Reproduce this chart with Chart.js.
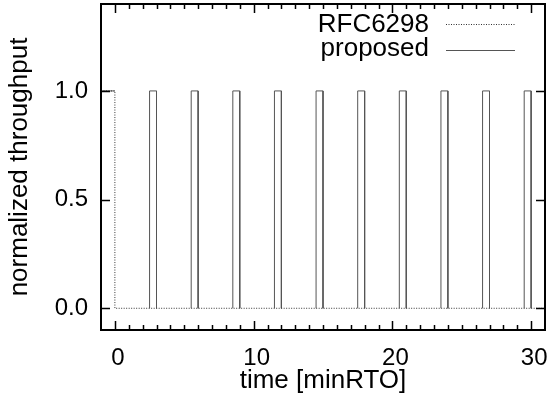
<!DOCTYPE html>
<html>
<head>
<meta charset="utf-8">
<script src="https://cdn.jsdelivr.net/npm/chart.js@4"></script>
<style>
  html, body { margin: 0; padding: 0; background: #fff; }
  canvas { display: block; }
</style>
</head>
<body>
<canvas id="chart" width="559" height="401"></canvas>
<script>
// data
const rfcX = [-1, 0, 0, 31];
const rfcY = [1, 1, 0, 0];
const proposedHeadX = [-1, 0];
const proposedHeadY = [1, 1];
const pulseStart = [2.5, 5.5, 8.5, 11.5, 14.5, 17.5, 20.5, 23.5, 26.5, 29.5];
const pulseEnd = [3, 6, 9, 12, 15, 18, 21, 24, 27, 30];
const pulseHigh = [1, 1, 1, 1, 1, 1, 1, 1, 1, 1];
const xTicks = [0, 10, 20, 30];
const yTicks = [0, 0.5, 1.0];
const seriesNames = ['RFC6298', 'proposed'];

const FONT = 'Liberation Sans, Arial, Helvetica, sans-serif';
const FS = 26;      // titles / legend
const FS_TICK = 24; // tick labels

// build point lists
const rfcData = rfcX.map((x, i) => ({ x: x, y: rfcY[i] }));
const proposedData = proposedHeadX.map((x, i) => ({ x: x, y: proposedHeadY[i] }));
pulseStart.forEach((s, i) => {
    proposedData.push({ x: s, y: null });
    proposedData.push({ x: s, y: 0 });
    proposedData.push({ x: s, y: pulseHigh[i] });
    proposedData.push({ x: pulseEnd[i], y: pulseHigh[i] });
    proposedData.push({ x: pulseEnd[i], y: 0 });
});

// minor ticks on x every 1 unit
const xMinor = [];
for (let v = 0; v <= 30; v++) xMinor.push(v);

// frame, inward ticks and legend (gnuplot look)
const framePlugin = {
    id: 'frame',
    afterDraw(chart) {
        const ctx = chart.ctx;
        const a = chart.chartArea;
        const xs = chart.scales.x;
        const ys = chart.scales.y;
        ctx.save();
        ctx.strokeStyle = '#000';
        ctx.lineWidth = 1.5;
        ctx.beginPath();
        xMinor.forEach(v => {
            const px = Math.round(xs.getPixelForValue(v)) + 0.5;
            const len = xTicks.includes(v) ? 9 : 5;
            ctx.moveTo(px, a.bottom); ctx.lineTo(px, a.bottom - len);
            ctx.moveTo(px, a.top); ctx.lineTo(px, a.top + len);
        });
        yTicks.forEach(v => {
            const py = Math.round(ys.getPixelForValue(v)) + 0.5;
            ctx.moveTo(a.left, py); ctx.lineTo(a.left + 9, py);
            ctx.moveTo(a.right, py); ctx.lineTo(a.right - 9, py);
        });
        ctx.stroke();
        ctx.lineWidth = 2;
        ctx.strokeRect(a.left, a.top, a.right - a.left, a.bottom - a.top);

        // legend: text then sample line
        ctx.font = FS + 'px ' + FONT;
        ctx.fillStyle = '#000';
        ctx.textAlign = 'right';
        ctx.textBaseline = 'alphabetic';
        const rows = [32, 56];
        const lineY = [24, 50];
        chart.data.datasets.forEach((ds, i) => {
            ctx.fillText(ds.label, 429, rows[i]);
            ctx.beginPath();
            ctx.strokeStyle = ds.borderColor;
            ctx.lineWidth = ds.borderWidth;
            ctx.setLineDash(ds.borderDash || []);
            ctx.moveTo(446, lineY[i] + 0.5);
            ctx.lineTo(515, lineY[i] + 0.5);
            ctx.stroke();
            ctx.setLineDash([]);
        });
        ctx.restore();
    }
};

new Chart(document.getElementById('chart'), {
    type: 'line',
    data: {
        datasets: [{
            label: seriesNames[0],
            data: rfcData,
            borderColor: '#333',
            borderWidth: 1,
            borderDash: [1, 1.5],
            pointRadius: 0,
            tension: 0,
            spanGaps: false
        }, {
            label: seriesNames[1],
            data: proposedData,
            borderColor: '#555',
            borderWidth: 1,
            pointRadius: 0,
            tension: 0,
            spanGaps: false
        }]
    },
    options: {
        responsive: false,
        animation: false,
        layout: { padding: { top: 4, right: 14, left: 0, bottom: 0 } },
        plugins: {
            legend: { display: false },
            tooltip: { enabled: false }
        },
        scales: {
            x: {
                type: 'linear',
                min: -1,
                max: 31,
                afterBuildTicks(s) { s.ticks = xTicks.map(v => ({ value: v })); },
                afterFit(s) { s.height = 71; s.paddingLeft = 0; s.paddingRight = 0; },
                grid: { display: false, drawTicks: false },
                border: { display: false },
                ticks: {
                    padding: 14,
                    labelOffset: 3,
                    color: '#000',
                    font: { family: FONT, size: FS_TICK },
                    maxRotation: 0,
                    callback: v => String(v)
                },
                title: {
                    display: true,
                    text: 'time [minRTO]',
                    color: '#000',
                    font: { family: FONT, size: FS },
                    padding: { top: 0, bottom: 5 }
                }
            },
            y: {
                min: -0.1,
                max: 1.4,
                afterBuildTicks(s) { s.ticks = yTicks.map(v => ({ value: v })); },
                afterFit(s) { s.width = 101; s.paddingTop = 0; s.paddingBottom = 0; },
                grid: { display: false, drawTicks: false },
                border: { display: false },
                ticks: {
                    padding: 13,
                    color: '#000',
                    font: { family: FONT, size: FS_TICK },
                    callback: v => v.toFixed(1)
                },
                title: {
                    display: true,
                    text: 'normalized throughput',
                    color: '#000',
                    font: { family: FONT, size: FS },
                    padding: { top: 4, bottom: 0 }
                }
            }
        }
    },
    plugins: [framePlugin]
});
</script>
</body>
</html>
